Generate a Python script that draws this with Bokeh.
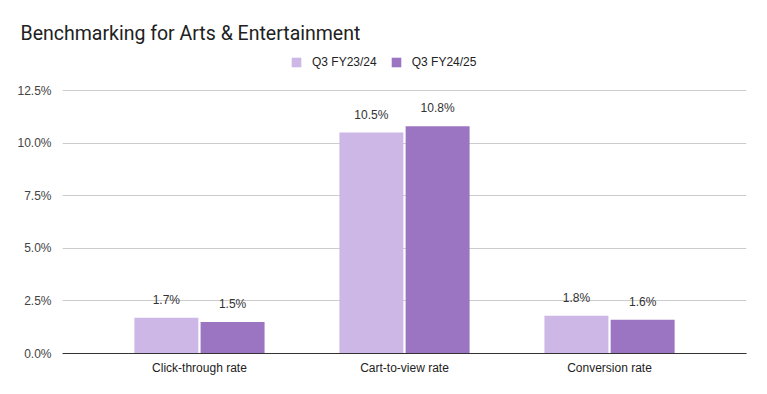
from bokeh.plotting import figure
from bokeh.models import (Range1d, FixedTicker, Legend, LegendItem, Title,
                          ColumnDataSource, NumeralTickFormatter)
from bokeh.core.properties import value
from bokeh.embed import file_html
from bokeh.resources import INLINE

categories = ["Click-through rate", "Cart-to-view rate", "Conversion rate"]
series_names = ["Q3 FY23/24", "Q3 FY24/25"]
q3_fy2324 = [1.7, 10.5, 1.8]
q3_fy2425 = [1.5, 10.8, 1.6]
y_ticks = [0, 2.5, 5.0, 7.5, 10.0, 12.5]

TFONT = "Roboto"
FONT = "Liberation Sans"
LIGHT = "#cdb7e6"
DARK = "#9b75c1"

FRAME_TOP = 50  # expected pixel row of the frame top
FRAME_BOTTOM = 353
y_max = 12.5 * (FRAME_BOTTOM - FRAME_TOP) / 263

p = figure(width=751, height=378, output_backend="svg", toolbar_location=None,
           x_range=Range1d(-0.668, 2.668), y_range=Range1d(0, y_max),
           min_border_left=62, min_border_right=5, min_border_top=0,
           min_border_bottom=25)
p.outline_line_color = None
p.background_fill_color = "white"
p.border_fill_color = "white"
p.title.text = ""

p.add_layout(Title(text="Benchmarking for Arts & Entertainment", align="left",
                   offset=-42, standoff=12, text_font=TFONT,
                   text_font_size="19.5px", text_font_style="normal",
                   text_color="#212121"), "above")
p.add_layout(Title(text=" ", standoff=0, text_font_size="10px"), "above")

xs = list(range(len(categories)))
bw = 0.312
off = 0.1615
src1 = ColumnDataSource(dict(x=[x - off for x in xs], top=q3_fy2324,
                             lab=[f"{v:.1f}%" for v in q3_fy2324]))
src2 = ColumnDataSource(dict(x=[x + off for x in xs], top=q3_fy2425,
                             lab=[f"{v:.1f}%" for v in q3_fy2425]))
r1 = p.vbar(x="x", top="top", width=bw, source=src1, fill_color=LIGHT,
            line_color=None)
r2 = p.vbar(x="x", top="top", width=bw, source=src2, fill_color=DARK,
            line_color=None)
for s in (src1, src2):
    p.text(x="x", y="top", text="lab", source=s, text_align="center",
           text_baseline="alphabetic", y_offset=-18,
           text_font=value(FONT), text_font_size="12px", text_color="#333333")

# axes
p.xaxis.ticker = FixedTicker(ticks=xs)
p.xaxis.major_label_overrides = {i: c for i, c in enumerate(categories)}
p.xaxis.major_tick_line_color = None
p.xaxis.minor_tick_line_color = None
p.xaxis.axis_line_color = "#333333"
p.xaxis.major_label_text_font = FONT
p.xaxis.major_label_text_font_size = "12px"
p.xaxis.major_label_text_color = "#222222"
p.xaxis.major_label_standoff = 1

p.yaxis.ticker = FixedTicker(ticks=y_ticks)
p.yaxis.formatter = NumeralTickFormatter(format="0.0")
p.yaxis.major_label_overrides = {t: f"{t:.1f}%" for t in y_ticks}
p.yaxis.major_tick_line_color = None
p.yaxis.minor_tick_line_color = None
p.yaxis.axis_line_color = None
p.yaxis.major_label_text_font = FONT
p.yaxis.major_label_text_font_size = "12px"
p.yaxis.major_label_text_color = "#444444"
p.yaxis.major_label_standoff = 5

p.xgrid.grid_line_color = None
p.ygrid.ticker = FixedTicker(ticks=y_ticks[1:])
p.ygrid.grid_line_color = "#cccccc"

legend = Legend(items=[LegendItem(label=series_names[0], renderers=[r1]),
                       LegendItem(label=series_names[1], renderers=[r2])],
                orientation="horizontal", location=(228, FRAME_BOTTOM - 69),
                glyph_width=12, glyph_height=12, label_standoff=10,
                spacing=13, padding=0, margin=0, border_line_color=None,
                background_fill_alpha=0, label_text_font=FONT,
                label_text_font_size="12px", label_text_color="#222222",
                label_height=12)
p.add_layout(legend, "center")

open("out.html", "w").write(file_html(p, INLINE))
